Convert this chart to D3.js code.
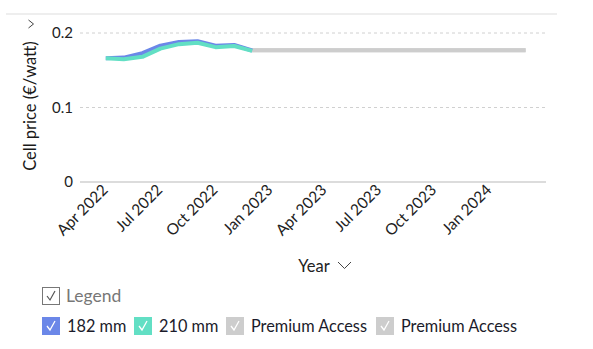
<!DOCTYPE html>
<html>
<head>
<meta charset="utf-8">
<script src="https://cdn.jsdelivr.net/npm/d3@7"></script>
<style>
  html, body { margin: 0; padding: 0; background: #fff; }
  svg { display: block; font-family: Lato, "Open Sans", sans-serif; }
</style>
</head>
<body>
<svg id="chart" width="593" height="349"></svg>
<script>
// Monthly cell prices (€/watt)
const monthsActual = ["2022-04-01","2022-05-01","2022-06-01","2022-07-01","2022-08-01","2022-09-01","2022-10-01","2022-11-01","2022-12-01"];
const price182 = [0.166, 0.167, 0.173, 0.183, 0.188, 0.189, 0.183, 0.184, 0.1765];
const price210 = [0.166, 0.1647, 0.168, 0.179, 0.185, 0.187, 0.181, 0.1826, 0.176];

// Locked (premium) months
const monthsPremium = ["2022-12-01","2023-01-01","2023-02-01","2023-03-01","2023-04-01","2023-05-01","2023-06-01","2023-07-01","2023-08-01","2023-09-01","2023-10-01","2023-11-01","2023-12-01","2024-01-01","2024-02-01","2024-03-01"];
const pricePremiumA = [0.177,0.177,0.177,0.177,0.177,0.177,0.177,0.177,0.177,0.177,0.177,0.177,0.177,0.177,0.177,0.177];
const pricePremiumB = [0.177,0.177,0.177,0.177,0.177,0.177,0.177,0.177,0.177,0.177,0.177,0.177,0.177,0.177,0.177,0.177];

const xTickDates = ["2022-04-01","2022-07-01","2022-10-01","2023-01-01","2023-04-01","2023-07-01","2023-10-01","2024-01-01"];
const yTicks = [0, 0.1, 0.2];

const legendItems = ["182 mm", "210 mm", "Premium Access", "Premium Access"];
const legendColors = ["#6b87e8", "#62dfc4", "#cdcdcd", "#cdcdcd"];

const parse = d3.utcParse("%Y-%m-%d");
const svg = d3.select("#chart");

const x = d3.scaleUtc()
  .domain([parse("2022-02-17"), parse("2024-04-04")])
  .range([80, 546]);
const y = d3.scaleLinear().domain([0, 0.2]).range([182, 33]);

// top separator
svg.append("line").attr("x1", 6).attr("x2", 557).attr("y1", 14).attr("y2", 14)
  .attr("stroke", "#e8e8e8").attr("stroke-width", 1.5);

// gridlines
svg.append("g").selectAll("line").data(yTicks.filter(d => d > 0)).join("line")
  .attr("x1", 80).attr("x2", 545)
  .attr("y1", d => y(d)).attr("y2", d => y(d))
  .attr("stroke", "#d0d0d0").attr("stroke-dasharray", "3,3").attr("stroke-width", 1);

// baseline
svg.append("line").attr("x1", 80).attr("x2", 546).attr("y1", y(0)).attr("y2", y(0))
  .attr("stroke", "#dcdcdc").attr("stroke-width", 2);

// y tick labels
svg.append("g").selectAll("text").data(yTicks).join("text")
  .attr("x", 73).attr("y", d => y(d)).attr("dy", "0.36em")
  .attr("text-anchor", "end").attr("font-size", 15).attr("fill", "#222")
  .text(d => d3.format("")(d));

// y axis title with dropdown chevron
const yt = svg.append("g").attr("transform", "translate(36,106) rotate(-90)");
yt.append("text").attr("text-anchor", "middle").attr("font-size", 16.5).attr("fill", "#1a1a1a")
  .text("Cell price (€/watt)");
yt.append("path").attr("d", "M78,-7.5 L82,-2.5 L86,-7.5").attr("fill", "none")
  .attr("stroke", "#444").attr("stroke-width", 1);

// x tick labels
svg.append("g").selectAll("text").data(xTickDates.map(parse)).join("text")
  .attr("transform", d => `translate(${x(d) + 3},191) rotate(-45)`)
  .attr("text-anchor", "end").attr("font-size", 15.5).attr("fill", "#222")
  .text(d3.utcFormat("%b %Y"));

// x axis title
svg.append("text").attr("x", 314).attr("y", 272).attr("text-anchor", "middle")
  .attr("font-size", 16.5).attr("fill", "#222").text("Year");
svg.append("path").attr("d", "M338,262 L344.5,268.5 L351,262").attr("fill", "none")
  .attr("stroke", "#444").attr("stroke-width", 1);

// lines
const line = d3.line().x(d => x(d[0])).y(d => y(d[1])).curve(d3.curveLinear);
const series = [
  { dates: monthsPremium, vals: pricePremiumA, color: legendColors[2] },
  { dates: monthsPremium, vals: pricePremiumB, color: legendColors[3] },
  { dates: monthsActual, vals: price182, color: legendColors[0] },
  { dates: monthsActual, vals: price210, color: legendColors[1] }
];
svg.append("g").selectAll("path").data(series).join("path")
  .attr("d", s => line(s.dates.map((d, i) => [parse(d), s.vals[i]])))
  .attr("fill", "none").attr("stroke", s => s.color)
  .attr("stroke-width", 4).attr("stroke-linejoin", "round");

// legend toggle
const lg = svg.append("g");
lg.append("rect").attr("x", 42.5).attr("y", 287.5).attr("width", 17).attr("height", 17)
  .attr("fill", "#fff").attr("stroke", "#777").attr("stroke-width", 1);
lg.append("path").attr("d", "M47,296 L50,300 L55,291").attr("fill", "none")
  .attr("stroke", "#555").attr("stroke-width", 1.2);
lg.append("text").attr("x", 66).attr("y", 302).attr("font-size", 17.5).attr("fill", "#777").text("Legend");

// legend items
const itemX = [42, 134, 226, 376];
const items = svg.append("g").selectAll("g").data(legendItems).join("g")
  .attr("transform", (d, i) => `translate(${itemX[i]},317)`);
items.append("rect").attr("width", 18).attr("height", 18).attr("fill", (d, i) => legendColors[i]);
items.append("path").attr("d", "M5,9 L8,13 L13,4").attr("fill", "none")
  .attr("stroke", "#fff").attr("stroke-width", 1.3);
items.append("text").attr("x", 25).attr("y", 15).attr("font-size", 16.3).attr("fill", "#1b1b2a")
  .text(d => d);
</script>
</body>
</html>
